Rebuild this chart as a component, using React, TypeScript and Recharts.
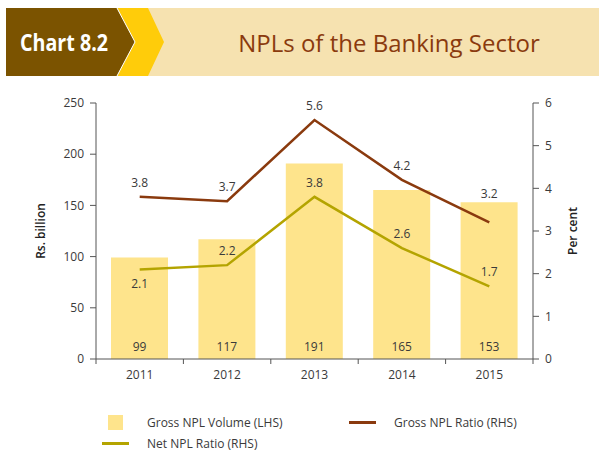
import { Bar, ComposedChart, LabelList, Line, XAxis, YAxis } from 'recharts';

const years = ['2011', '2012', '2013', '2014', '2015'];
const grossVolume = [99, 117, 191, 165, 153];
const grossRatio = [3.8, 3.7, 5.6, 4.2, 3.2];
const netRatio = [2.1, 2.2, 3.8, 2.6, 1.7];
const leftTicks = [0, 50, 100, 150, 200, 250];
const rightTicks = [0, 1, 2, 3, 4, 5, 6];

const data = years.map((year, i) => ({
  year,
  volume: grossVolume[i],
  gross: grossRatio[i],
  net: netRatio[i],
}));

const W = 599;
const H = 474;
const plotLeft = 96;
const plotRight = 533;
const plotTop = 103;
const plotBottom = 359;
const band = (plotRight - plotLeft) / years.length;
const font = '"Open Sans", sans-serif';
const textColor = '#3a3a3a';
const axisColor = '#555';

const colors = {
  bar: '#fee48c',
  gross: '#8a3a0e',
  net: '#b4a400',
};

function YearTick(props: any) {
  const { x, y, payload, index } = props;
  const left = x - band / 2;
  return (
    <g>
      <line x1={left} x2={left} y1={y - 8} y2={y - 3} stroke={axisColor} />
      {index === years.length - 1 && (
        <line x1={left + band} x2={left + band} y1={y - 8} y2={y - 3} stroke={axisColor} />
      )}
      <text x={x} y={y + 12} textAnchor="middle" fontSize={12} fill={textColor} fontFamily={font}>
        {payload.value}
      </text>
    </g>
  );
}

// labels sit above the line, except the listed indexes which go below
function ratioLabel(below: number[], lifted: number[] = []) {
  return (props: any) => {
    const { x, y, value, index } = props;
    const under = below.includes(index);
    const extra = lifted.includes(index) ? 14 : 0;
    return (
      <text
        x={x}
        y={under ? y + 19 : y - 10 - extra}
        textAnchor="middle"
        fontSize={12}
        fill={textColor}
        fontFamily={font}
      >
        {Number(value).toFixed(1)}
      </text>
    );
  };
}

function volumeLabel(props: any) {
  const { x, y, width, height, value } = props;
  return (
    <text x={x + width / 2} y={y + height - 8} textAnchor="middle" fontSize={12} fill={textColor} fontFamily={font}>
      {value}
    </text>
  );
}

function Header() {
  return (
    <svg width={W} height={80} style={{ position: 'absolute', left: 0, top: 0 }}>
      <rect x={6} y={8} width={593} height={68} fill="#f6e2b0" />
      <polygon points="117,8 148,8 164,42 148,76 117,76 135,42" fill="#ffcc0a" />
      <polygon points="6,8 117,8 135,42 117,76 6,76" fill="#7b5300" />
      <polyline points="117,8 135,42 117,76" fill="none" stroke="#fff" strokeWidth={1} />
      <text
        x={20}
        y={51}
        fontSize={23}
        fontWeight={700}
        fill="#fff"
        fontFamily={font}
        textLength={88}
        lengthAdjust="spacingAndGlyphs"
      >
        Chart 8.2
      </text>
      <text x={389} y={52} fontSize={24} textAnchor="middle" fill="#8a3a0e" fontFamily={font}>
        NPLs of the Banking Sector
      </text>
    </svg>
  );
}

function Legend() {
  const item = { position: 'absolute' as const, fontSize: 12, color: textColor, fontFamily: font };
  return (
    <>
      <div style={{ position: 'absolute', left: 108, top: 415, width: 15, height: 15, background: colors.bar }} />
      <div style={{ ...item, left: 147, top: 414 }}>Gross NPL Volume (LHS)</div>
      <div style={{ position: 'absolute', left: 349, top: 421, width: 27, height: 3, background: colors.gross }} />
      <div style={{ ...item, left: 394, top: 414 }}>Gross NPL Ratio (RHS)</div>
      <div style={{ position: 'absolute', left: 102, top: 442, width: 27, height: 3, background: colors.net }} />
      <div style={{ ...item, left: 147, top: 435 }}>Net NPL Ratio (RHS)</div>
    </>
  );
}

export default function App() {
  return (
    <div style={{ position: 'fixed', left: 0, top: 0, width: W, height: H, background: '#fff' }}>
      <Header />
      <ComposedChart
        width={W}
        height={H}
        data={data}
        barCategoryGap={15}
        margin={{ top: plotTop, left: plotLeft - 70, right: W - plotRight - 70, bottom: H - plotBottom - 30 }}
        style={{ position: 'absolute', left: 0, top: 0, fontFamily: font }}
      >
        <XAxis
          dataKey="year"
          height={30}
          tick={<YearTick />}
          tickLine={false}
          axisLine={{ stroke: axisColor }}
          interval={0}
        />
        <YAxis
          yAxisId="left"
          width={70}
          domain={[0, 250]}
          ticks={leftTicks}
          tickSize={6}
          tickMargin={6}
          tick={{ fontSize: 12, fill: textColor, fontFamily: font }}
          stroke={axisColor}
          label={({ viewBox }: any) => (
            <text
              transform={`translate(${viewBox.x + 19}, ${viewBox.y + viewBox.height / 2}) rotate(-90)`}
              textAnchor="middle"
              fontSize={12}
              fontWeight={600}
              fill="#222"
              fontFamily={font}
            >
              Rs. billion
            </text>
          )}
        />
        <YAxis
          yAxisId="right"
          orientation="right"
          width={70}
          domain={[0, 6]}
          ticks={rightTicks}
          tickSize={6}
          tickMargin={6}
          tick={{ fontSize: 12, fill: textColor, fontFamily: font }}
          stroke={axisColor}
          label={({ viewBox }: any) => (
            <text
              transform={`translate(${viewBox.x + 44}, ${viewBox.y + viewBox.height / 2}) rotate(-90)`}
              textAnchor="middle"
              fontSize={12}
              fontWeight={600}
              fill="#222"
              fontFamily={font}
            >
              Per cent
            </text>
          )}
        />
        <Bar yAxisId="left" dataKey="volume" fill={colors.bar} isAnimationActive={false}>
          <LabelList dataKey="volume" content={volumeLabel} />
        </Bar>
        <Line
          yAxisId="right"
          dataKey="gross"
          stroke={colors.gross}
          strokeWidth={2.5}
          dot={false}
          isAnimationActive={false}
        >
          <LabelList dataKey="gross" content={ratioLabel([], [4])} />
        </Line>
        <Line
          yAxisId="right"
          dataKey="net"
          stroke={colors.net}
          strokeWidth={2.5}
          dot={false}
          isAnimationActive={false}
        >
          <LabelList dataKey="net" content={ratioLabel([0])} />
        </Line>
      </ComposedChart>
      <Legend />
    </div>
  );
}
